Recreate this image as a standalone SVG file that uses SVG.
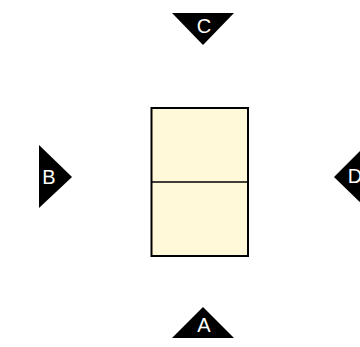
<svg xmlns="http://www.w3.org/2000/svg" width="360" height="347" viewBox="0 0 360 347">
<style>
.tri{fill:#000;stroke:none}
.lbl{fill:#fff;font-family:"Liberation Sans",Arial,sans-serif;font-size:20px;text-anchor:middle}
.box{fill:#fff8d9;stroke:#000;stroke-width:2}
</style>
<rect width="360" height="347" fill="#fff"/>
<g id="table">
<rect class="box" x="151.5" y="108" width="96.5" height="148"/>
<line x1="151.5" y1="182" x2="248" y2="182" stroke="#000" stroke-width="1.5"/>
</g>
<g id="C">
<polygon class="tri" points="172,13 234,13 203,45"/>
<text class="lbl" x="204" y="33">C</text>
</g>
<g id="A">
<polygon class="tri" points="203,307 234,338 172,338"/>
<text class="lbl" x="204" y="332">A</text>
</g>
<g id="B">
<polygon class="tri" points="39,145 72,177 39,208"/>
<text class="lbl" x="49" y="184">B</text>
</g>
<g id="D">
<polygon class="tri" points="334,177 366,145 366,208"/>
<text class="lbl" x="355" y="183">D</text>
</g>
<g id="connectors"/>
</svg>
